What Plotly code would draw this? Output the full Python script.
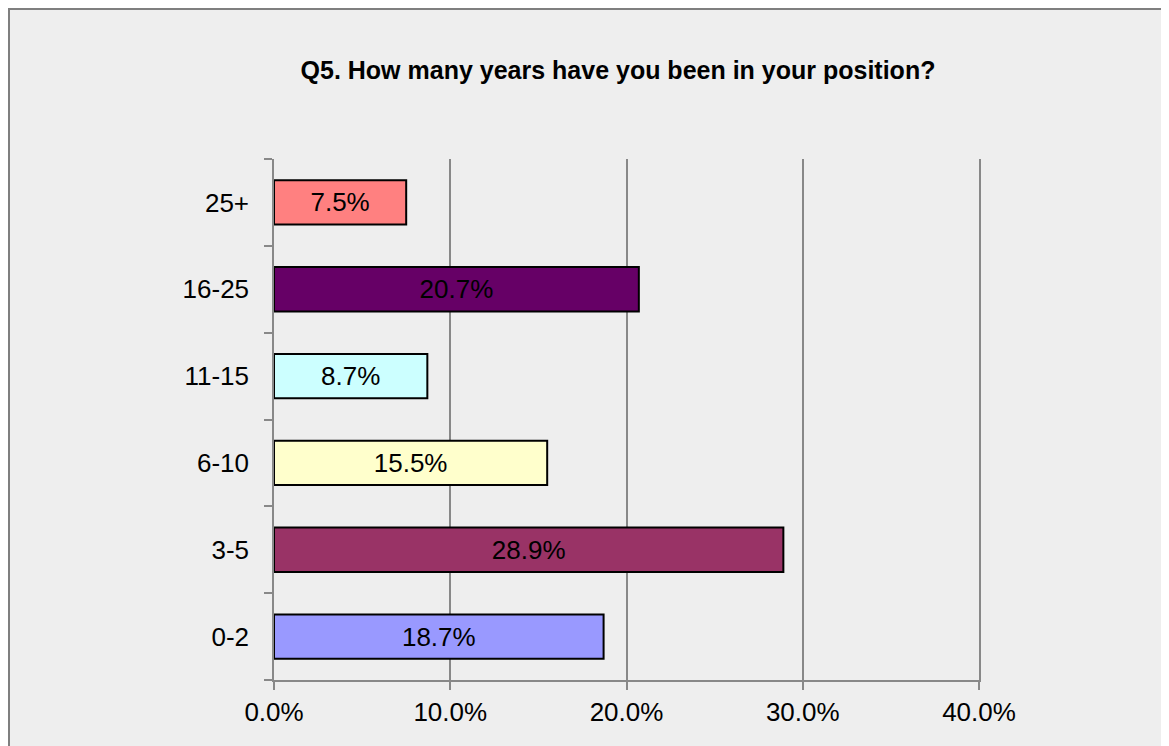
import plotly.graph_objects as go

categories = ["0-2", "3-5", "6-10", "11-15", "16-25", "25+"]
values = [18.7, 28.9, 15.5, 8.7, 20.7, 7.5]
bar_colors = ["#9999FF", "#993366", "#FFFFCC", "#CCFFFF", "#660066", "#FF8080"]
x_ticks = [0, 10, 20, 30, 40]
x_tick_labels = ["0.0%", "10.0%", "20.0%", "30.0%", "40.0%"]
title_text = "Q5. How many years have you been in your position?"

# page has an 8px body margin, so the figure is sized to fit the window
W, H = 1161, 738
L, R, T, B = 266, 971, 151, 672
pw, ph = R - L, B - T

def px_x(px):
    return (px - L) / pw

def px_y(py):
    return (B - py) / ph

FONT = "Liberation Sans, Arial, sans-serif"

fig = go.Figure(
    go.Bar(
        y=categories,
        x=values,
        orientation="h",
        marker=dict(color=bar_colors, line=dict(color="black", width=2)),
        text=[f"{v:.1f}%" for v in values],
        textposition="inside",
        insidetextanchor="middle",
        insidetextfont=dict(color="black", size=26, family=FONT),
        hoverinfo="skip",
    )
)

fig.update_layout(
    width=W,
    height=H,
    margin=dict(l=L, r=W - R, t=T, b=H - B, pad=0),
    paper_bgcolor="white",
    plot_bgcolor="rgba(0,0,0,0)",
    font=dict(family=FONT, size=26, color="black"),
    bargap=0.49,
    showlegend=False,
    title=dict(
        text=f"<b>{title_text}</b>",
        x=610 / W,
        xanchor="center",
        xref="container",
        y=1 - 62 / H,
        yanchor="middle",
        yref="container",
        font=dict(size=25, family=FONT, color="black"),
    ),
    xaxis=dict(
        range=[0, 40],
        tickvals=x_ticks,
        ticktext=x_tick_labels,
        showgrid=True,
        gridcolor="#888888",
        gridwidth=1.5,
        zeroline=False,
        showline=True,
        linecolor="#888888",
        linewidth=1.5,
        ticks="outside",
        ticklen=8,
        tickwidth=1.5,
        tickcolor="#888888",
        tickfont=dict(size=26, family=FONT, color="black"),
        fixedrange=True,
    ),
    yaxis=dict(
        categoryorder="array",
        categoryarray=categories,
        showgrid=False,
        zeroline=False,
        showline=True,
        mirror=True,
        linecolor="#888888",
        linewidth=1.5,
        ticks="outside",
        tickson="boundaries",
        ticklen=8,
        tickwidth=1.5,
        tickcolor="#888888",
        ticklabelstandoff=18,
        tickfont=dict(size=26, family=FONT, color="black"),
        fixedrange=True,
    ),
    shapes=[
        dict(
            type="rect",
            xref="paper",
            yref="paper",
            x0=px_x(1),
            x1=px_x(1200),
            y0=px_y(800),
            y1=px_y(1),
            fillcolor="#EEEEEE",
            line=dict(color="#7F7F7F", width=2),
            layer="below",
        )
    ],
)

fig.write_html("out.html")
